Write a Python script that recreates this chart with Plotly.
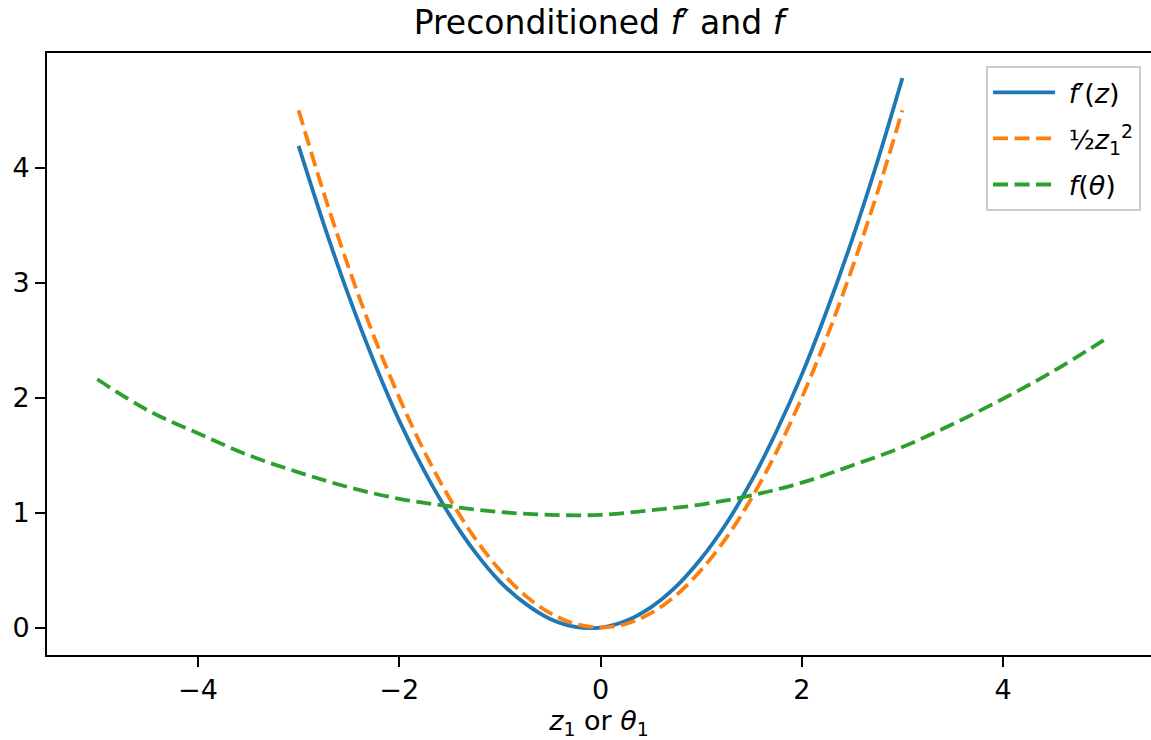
import plotly.graph_objects as go

# ---- data ----
z_vals = [-3.0, -2.75, -2.5, -2.25, -2.0, -1.75, -1.5, -1.25, -1.0, -0.75, -0.5, -0.25,
          0.0, 0.25, 0.5, 0.75, 1.0, 1.25, 1.5, 1.75, 2.0, 2.25, 2.5, 2.75, 3.0]
f_prime_vals = [4.19, 3.51, 2.88, 2.31, 1.80, 1.36, 0.98, 0.66, 0.40, 0.21, 0.075, 0.006,
                0.0, 0.056, 0.175, 0.355, 0.60, 0.905, 1.275, 1.71, 2.20, 2.76, 3.375, 4.05, 4.78]
half_z_sq_vals = [4.5, 3.78, 3.125, 2.53, 2.0, 1.53, 1.125, 0.78, 0.5, 0.28, 0.125, 0.031,
                  0.0, 0.031, 0.125, 0.28, 0.5, 0.78, 1.125, 1.53, 2.0, 2.53, 3.125, 3.78, 4.5]
theta_vals = [-5.0, -4.5, -4.0, -3.5, -3.0, -2.5, -2.0, -1.5, -1.0, -0.5, 0.0,
              0.5, 1.0, 1.5, 2.0, 2.5, 3.0, 3.5, 4.0, 4.5, 5.0]
f_theta_vals = [2.16, 1.89, 1.69, 1.50, 1.35, 1.22, 1.12, 1.055, 1.005, 0.98, 0.98,
                1.02, 1.07, 1.15, 1.26, 1.41, 1.57, 1.77, 1.99, 2.23, 2.50]

x_ticks = [-4, -2, 0, 2, 4]
x_tick_text = ["−4", "−2", "0", "2", "4"]
y_ticks = [0, 1, 2, 3, 4]

legend_names = ["\u00a0<i>f</i>′(<i>z</i>)",
                "\u00a0½<i>z</i><sub>1</sub><sup>2</sup>",
                "\u00a0<i>f</i>(<i>θ</i>)"]

FONT = "DejaVu Sans"
FS = 27
LW = 3.8
DASH = "15px,6.5px"

fig = go.Figure()
fig.add_trace(go.Scatter(x=z_vals, y=f_prime_vals, mode="lines",
                         line=dict(color="#1f77b4", width=LW, shape="spline"),
                         name=legend_names[0], legendgroup="a"))
fig.add_trace(go.Scatter(x=z_vals, y=half_z_sq_vals, mode="lines",
                         line=dict(color="#ff7f0e", width=LW, dash=DASH, shape="spline"),
                         name=legend_names[1], legendgroup="b"))
fig.add_trace(go.Scatter(x=theta_vals, y=f_theta_vals, mode="lines",
                         line=dict(color="#2ca02c", width=LW, dash=DASH, shape="spline"),
                         name=legend_names[2], legendgroup="c"))

axis_common = dict(showline=True, linecolor="black", linewidth=2,
                   ticks="outside", ticklen=10, tickwidth=2, tickcolor="black",
                   showgrid=False, zeroline=False,
                   tickfont=dict(family=FONT, size=FS, color="black"))

fig.update_layout(
    width=1151, height=740,
    autosize=False,
    margin=dict(l=47, r=0, t=53, b=85),
    paper_bgcolor="white", plot_bgcolor="white",
    font=dict(family=FONT, size=FS, color="black"),
    title=dict(text="Preconditioned <i>f</i>′ and <i>f</i>", x=0.5, xref="paper",
               xanchor="center", y=1 - 22 / 740, yanchor="middle", yref="container",
               font=dict(family=FONT, size=33, color="black")),
    xaxis=dict(range=[-5.5, 5.47], tickvals=x_ticks, ticktext=x_tick_text,
               mirror=True,
               title=dict(text="<i>z</i><sub>1</sub> or <i>θ</i><sub>1</sub>",
                          font=dict(family=FONT, size=FS), standoff=6),
               **axis_common),
    yaxis=dict(range=[-0.239, 4.998], tickvals=y_ticks, mirror=False, **axis_common),
    legend=dict(x=0.991, y=0.978, xanchor="right", yanchor="top",
                bgcolor="rgba(255,255,255,0.8)", bordercolor="#cccccc", borderwidth=2,
                font=dict(family=FONT, size=FS), tracegroupgap=8, itemwidth=62),
    showlegend=True,
)

fig.write_html("out.html", config={"displayModeBar": False},
               post_script="document.body.style.margin='0';")
